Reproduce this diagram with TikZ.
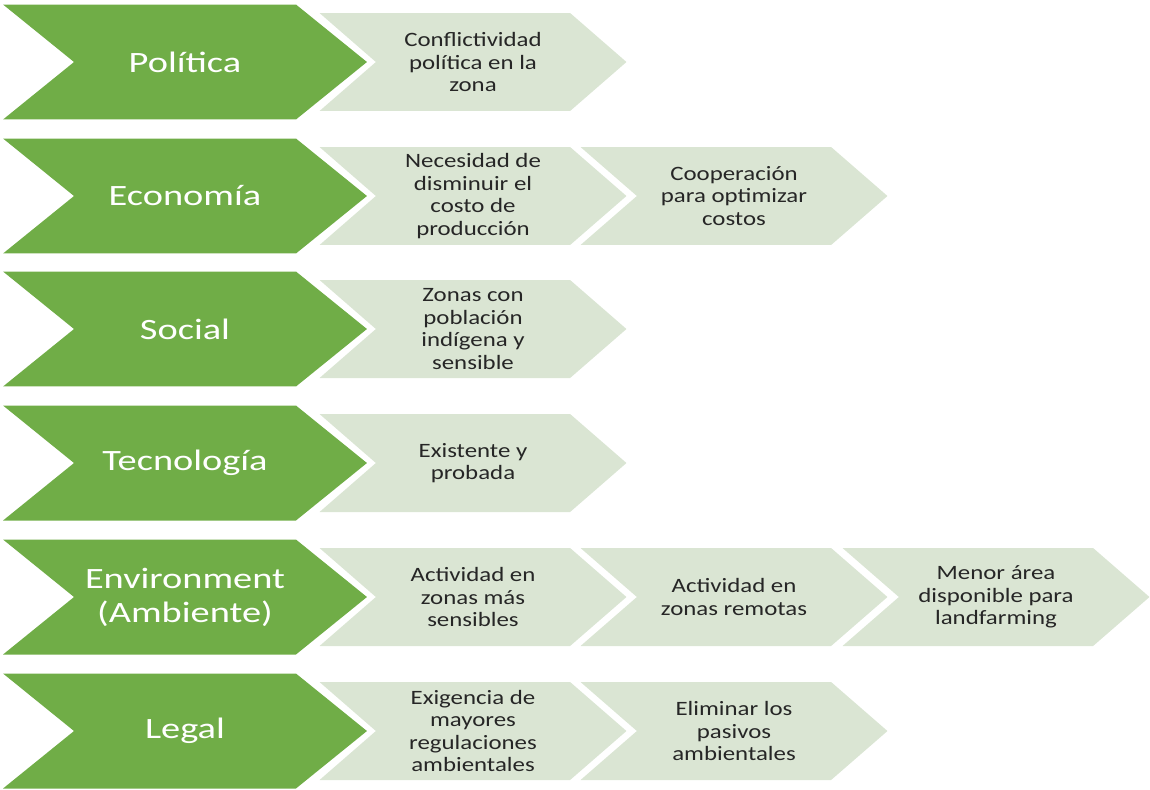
\documentclass[tikz,border=0pt]{standalone}
\usepackage{fontspec}
\setmainfont{Carlito}
\newfontfamily\factorfont{Carlito}[FakeStretch=1.3]
\newfontfamily\effectfont{Carlito}[FakeStretch=1.22]
\usetikzlibrary{shapes.symbols}
\definecolor{leaf}{HTML}{70AD47}
\definecolor{mint}{HTML}{DAE5D3}
\definecolor{ink}{HTML}{262626}
\begin{document}
\begin{tikzpicture}[x=0.02cm,y=-0.02cm,
    chevron/.style={signal,signal from=west,signal to=east,inner sep=0pt,align=center},
    factor/.style={chevron,signal pointer angle=78,fill=leaf,text=white,
        minimum width=7.28cm,minimum height=2.3cm,font=\factorfont\fontsize{16.8}{19.4}\selectfont},
    effect/.style={chevron,signal pointer angle=82,fill=mint,text=ink,
        minimum width=6.14cm,minimum height=1.96cm,font=\effectfont\fontsize{11.6}{12.8}\selectfont}]
            \useasboundingbox (0,0) rectangle (1150,789);
            
            \node[factor] (P) at (185,62) {Política};
            \node[factor] (E) at (185,196) {Economía};
            \node[factor] (S) at (185,329) {Social};
            \node[factor] (T) at (185,463) {Tecnología};
            \node[factor] (A) at (185,597) {Environment\\(Ambiente)};
            \node[factor] (L) at (185,731) {Legal};
            
            \node[effect] (P1) at (473,62) {Conflictividad\\política en la\\zona};
            
            \node[effect] (E1) at (473,196) {Necesidad de\\disminuir el\\costo de\\producción};
            \node[effect] (E2) at (734,196) {Cooperación\\para optimizar\\costos};
            
            \node[effect] (S1) at (473,329) {Zonas con\\población\\indígena y\\sensible};
            
            \node[effect] (T1) at (473,463) {Existente y\\probada};
            
            \node[effect] (A1) at (473,597) {Actividad en\\zonas más\\sensibles};
            \node[effect] (A2) at (734,597) {Actividad en\\zonas remotas};
            \node[effect] (A3) at (996,597) {Menor área\\disponible para\\landfarming};
            
            \node[effect] (L1) at (473,731) {Exigencia de\\mayores\\regulaciones\\ambientales};
            \node[effect] (L2) at (734,731) {Eliminar los\\pasivos\\ambientales};
\end{tikzpicture}
\end{document}
